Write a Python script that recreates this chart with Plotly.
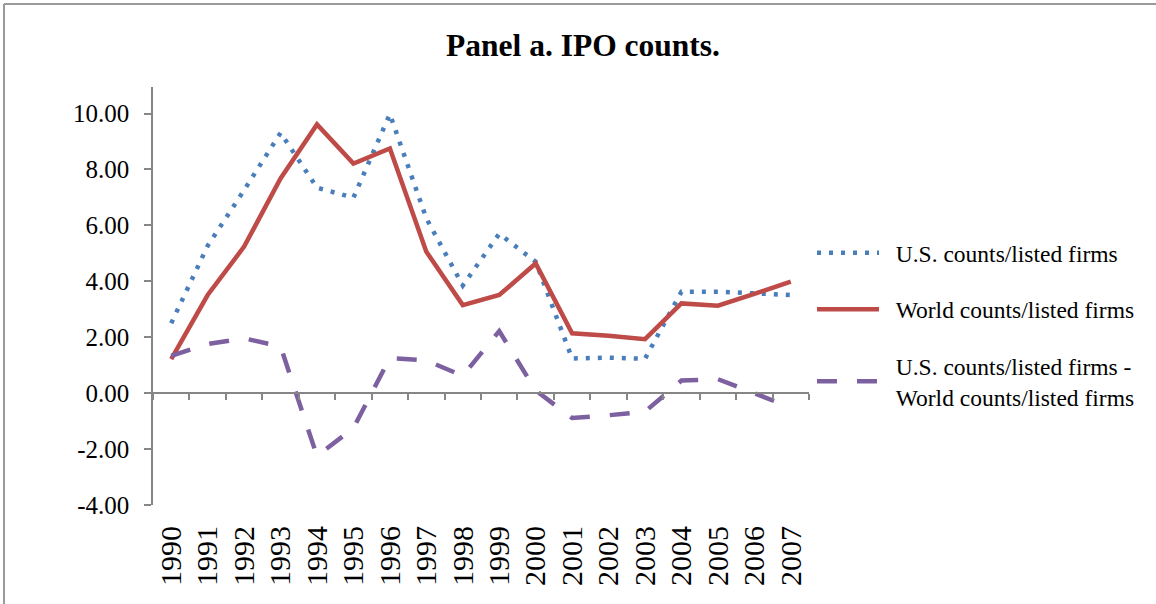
import plotly.graph_objects as go

# values
years = [str(y) for y in range(1990, 2008)]
us_counts = [2.50, 5.27, 7.26, 9.31, 7.35, 6.99, 9.98, 6.25, 3.85, 5.70,
             4.70, 1.24, 1.27, 1.23, 3.63, 3.63, 3.57, 3.51]
world_counts = [1.22, 3.51, 5.24, 7.68, 9.61, 8.21, 8.75, 5.06, 3.15, 3.51,
                4.64, 2.14, 2.05, 1.93, 3.21, 3.13, 3.55, 3.99]
diff_counts = [1.33, 1.76, 1.96, 1.67, -2.25, -1.25, 1.26, 1.17, 0.62, 2.22,
               0.10, -0.89, -0.79, -0.66, 0.45, 0.50, 0.00, -0.52]
y_ticks = [-4, -2, 0, 2, 4, 6, 8, 10]

FONT = "Liberation Serif, Times New Roman, serif"
GRAY = "#868686"
W, H = 1156, 604
L, R, T, B = 153, 347, 87, 99
y_min, y_max = -4, 10.95
PAD = "\u00a0\u00a0"  # small gap between legend line and its text

fig = go.Figure()

fig.add_trace(go.Scatter(
    x=years, y=us_counts, mode="lines", name=PAD + "U.S. counts/listed firms",
    line=dict(color="#4A7EBB", width=4.5, dash="4px,8px"), legendgroup="a"))
fig.add_trace(go.Scatter(
    x=years, y=world_counts, mode="lines", name=PAD + "World counts/listed firms",
    line=dict(color="#BE4B48", width=4.5), legendgroup="b"))
fig.add_trace(go.Scatter(
    x=years, y=diff_counts, mode="lines",
    name=PAD + "U.S. counts/listed firms -<br>" + PAD + "World counts/listed firms",
    line=dict(color="#7D60A0", width=4.5, dash="20px,20px"), legendgroup="c"))

# invisible trace for the category axis that sits on the zero line
fig.add_trace(go.Scatter(x=years, y=[None] * len(years), xaxis="x2",
                         showlegend=False, hoverinfo="skip"))


def px_x(px):
    return (px - L) / (W - L - R)


def px_y(py):
    return (H - B - py) / (H - T - B)


# outer frame (only top and left edges are visible in the reference)
fig.add_shape(type="line", xref="paper", yref="paper",
              x0=px_x(4), x1=px_x(W + 10), y0=px_y(4), y1=px_y(4),
              line=dict(color="#9a9a9a", width=2))
fig.add_shape(type="line", xref="paper", yref="paper",
              x0=px_x(4), x1=px_x(4), y0=px_y(4), y1=px_y(H + 10),
              line=dict(color="#9a9a9a", width=2))

fig.update_layout(
    width=W, height=H,
    margin=dict(l=L, r=R, t=T, b=B),
    paper_bgcolor="white", plot_bgcolor="white",
    font=dict(family=FONT, color="black", size=23),
    title=dict(text="<b>Panel a. IPO counts.</b>", x=583 / W, xref="container",
               xanchor="center", y=1 - 45 / H, yref="container", yanchor="middle",
               font=dict(family=FONT, size=31.5, color="black")),
    xaxis=dict(type="category", range=[-0.5, 17.5], showline=False, ticks="",
               showgrid=False, zeroline=False, tickangle=-90,
               tickfont=dict(family=FONT, size=30), ticklabelstandoff=14),
    xaxis2=dict(type="category", range=[-0.5, 17.5], overlaying="x",
                anchor="free", position=(0 - y_min) / (y_max - y_min),
                showline=True, linecolor=GRAY, linewidth=1.5,
                ticks="outside", ticklen=6, tickcolor=GRAY, tickwidth=1.5,
                tickson="boundaries", showticklabels=False, showgrid=False,
                zeroline=False),
    yaxis=dict(range=[y_min, y_max], tickvals=y_ticks,
               ticktext=[f"{v:.2f}" for v in y_ticks],
               showline=True, linecolor=GRAY, linewidth=1.5,
               ticks="outside", ticklen=7, tickcolor=GRAY, tickwidth=1.5,
               showgrid=False, zeroline=False,
               tickfont=dict(family=FONT, size=25), ticklabelstandoff=10),
    legend=dict(x=px_x(812), xanchor="left", y=px_y(231), yanchor="top",
                font=dict(family=FONT, size=23.5), tracegroupgap=23,
                itemwidth=62, bgcolor="rgba(0,0,0,0)"),
    showlegend=True,
)

fig.write_html("out.html", config={"displayModeBar": False},
               post_script="document.body.style.margin='0';")
